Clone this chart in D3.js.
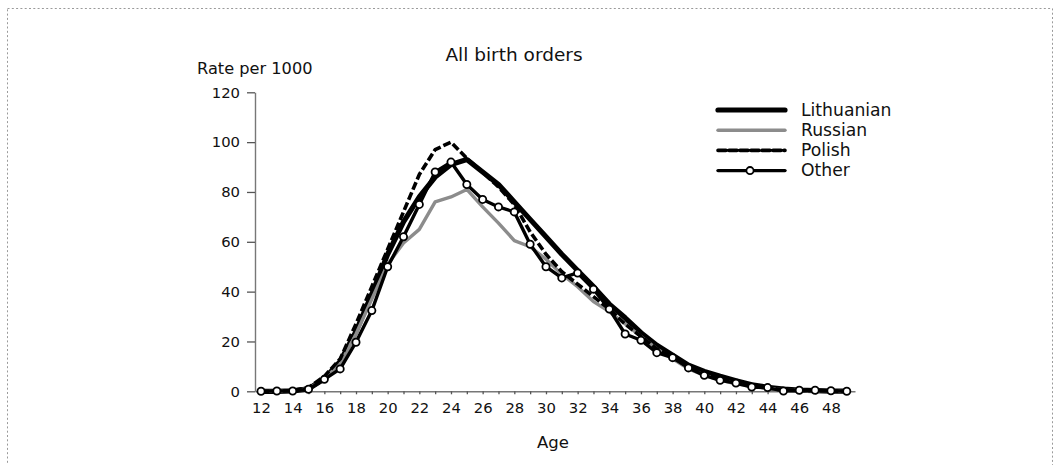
<!DOCTYPE html>
<html>
<head>
<meta charset="utf-8">
<script src="https://cdn.jsdelivr.net/npm/d3@7"></script>
<style>
  body { margin: 0; background: #fff; }
  svg { display: block; }
  text { font-family: "DejaVu Sans", sans-serif; fill: #111; }
</style>
</head>
<body>
<svg id="chart" width="1060" height="465"></svg>
<script>
// ages 12..49
var ages = [12, 13, 14, 15, 16, 17, 18, 19, 20, 21, 22, 23, 24, 25, 26, 27, 28, 29, 30,
  31, 32, 33, 34, 35, 36, 37, 38, 39, 40, 41, 42, 43, 44, 45, 46, 47, 48, 49];

var lithuanian = [0, 0, 0.2, 1, 5, 12, 24, 39, 55, 68, 78, 86, 91, 93, 88, 83, 76, 69, 62,
  55, 48.5, 42, 35, 29.5, 23.5, 18.5, 14.5, 10.5, 8, 6, 4.2, 2.6, 1.6, 0.9, 0.5, 0.3, 0.1, 0.05];
var russian = [0, 0, 0.2, 1, 5, 11, 23, 37, 51, 59.5, 65, 76, 78, 81, 74, 67.5, 60.5, 58, 53,
  47, 42, 36, 32, 27, 22, 17, 13, 9, 6.5, 4.5, 3, 2, 1.2, 0.6, 0.3, 0.1, 0.05, 0];
var polish = [0, 0, 0.3, 1.5, 6, 13, 27, 42, 57, 72, 87, 97, 100, 93.5, 88, 82, 75, 64, 55,
  48, 43, 38, 33, 27, 22, 17, 13.5, 10, 7, 5, 3.5, 2.2, 1.4, 0.7, 0.4, 0.2, 0.1, 0];
var other = [0, 0.1, 0.1, 0.8, 4.8, 9, 19.7, 32.4, 50, 62, 75, 88, 92, 83, 77, 74, 72, 59, 50,
  45.5, 47.5, 41, 33, 23, 20.5, 15.5, 13.5, 9.4, 6.4, 4.4, 3.3, 1.7, 1.5, 0.1, 0.4, 0.4, 0.2, 0];

var yTicks = [0, 20, 40, 60, 80, 100, 120];
var seriesNames = ["Lithuanian", "Russian", "Polish", "Other"];

var svg = d3.select("#chart");

// dotted frame round the figure
svg.append("rect")
  .attr("x", 7.5)
  .attr("y", 8.5)
  .attr("width", 1045)
  .attr("height", 470)
  .attr("fill", "none")
  .attr("stroke", "#9a9a9a")
  .attr("stroke-width", 1)
  .attr("stroke-dasharray", "2,2.3");

var xScale = d3.scaleLinear().domain([11.62, 49.52]).range([255, 855]);
var yScale = d3.scaleLinear().domain([0, 120]).range([391.3, 92.3]);

// axes
var xAxis = d3.axisBottom(xScale)
  .tickValues(ages)
  .tickSize(3)
  .tickSizeOuter(0)
  .tickPadding(8)
  .tickFormat(function (d) { return d % 2 == 0 ? d : ""; });
var yAxis = d3.axisLeft(yScale)
  .tickValues(yTicks)
  .tickSize(8)
  .tickSizeOuter(0)
  .tickPadding(7);

var gX = svg.append("g")
  .attr("transform", "translate(0," + yScale(0) + ")")
  .call(xAxis);
var gY = svg.append("g")
  .attr("transform", "translate(" + xScale.range()[0] + ",0)")
  .call(yAxis);

[gX, gY].forEach(function (g) {
  g.select(".domain").attr("stroke", "#777").attr("stroke-width", 1.4);
  g.selectAll(".tick line").attr("stroke", "#555").attr("stroke-width", 1.3);
  g.selectAll(".tick text")
    .attr("font-family", '"DejaVu Sans", sans-serif')
    .attr("font-size", 14.8)
    .attr("fill", "#111");
});

// titles
svg.append("text")
  .attr("x", 514)
  .attr("y", 61)
  .attr("text-anchor", "middle")
  .attr("font-size", 18.5)
  .text("All birth orders");
svg.append("text")
  .attr("x", 197)
  .attr("y", 74)
  .attr("font-size", 16.2)
  .text("Rate per 1000");
svg.append("text")
  .attr("x", 553)
  .attr("y", 448)
  .attr("text-anchor", "middle")
  .attr("font-size", 16.5)
  .text("Age");

// series
var line = d3.line()
  .x(function (d) { return xScale(d[0]); })
  .y(function (d) { return yScale(d[1]); });

function pairs(values) {
  return ages.map(function (a, i) { return [a, values[i]]; });
}

var styles = {
  Lithuanian: { stroke: "#000", width: 5.2, dash: null },
  Russian: { stroke: "#8c8c8c", width: 3.4, dash: null },
  Polish: { stroke: "#000", width: 3.6, dash: "8,3" },
  Other: { stroke: "#000", width: 3.4, dash: null }
};
var seriesData = {
  Lithuanian: lithuanian,
  Russian: russian,
  Polish: polish,
  Other: other
};

var plot = svg.append("g");
seriesNames.forEach(function (name) {
  var s = styles[name];
  plot.append("path")
    .datum(pairs(seriesData[name]))
    .attr("d", line)
    .attr("fill", "none")
    .attr("stroke", s.stroke)
    .attr("stroke-width", s.width)
    .attr("stroke-linejoin", "round")
    .attr("stroke-dasharray", s.dash);
});

plot.selectAll("circle.other")
  .data(pairs(other))
  .enter()
  .append("circle")
  .attr("class", "other")
  .attr("cx", function (d) { return xScale(d[0]); })
  .attr("cy", function (d) { return yScale(d[1]); })
  .attr("r", 3.6)
  .attr("fill", "#fff")
  .attr("stroke", "#000")
  .attr("stroke-width", 1.8);

// legend
var legend = svg.append("g").attr("transform", "translate(718,110)");
seriesNames.forEach(function (name, i) {
  var s = styles[name];
  var row = legend.append("g").attr("transform", "translate(0," + i * 20.2 + ")");
  row.append("line")
    .attr("x1", 0)
    .attr("x2", 67)
    .attr("y1", 0)
    .attr("y2", 0)
    .attr("stroke", s.stroke)
    .attr("stroke-width", s.width)
    .attr("stroke-linecap", "round")
    .attr("stroke-dasharray", s.dash);
  if (name == "Other") {
    row.append("circle")
      .attr("cx", 32)
      .attr("cy", 0)
      .attr("r", 3.6)
      .attr("fill", "#fff")
      .attr("stroke", "#000")
      .attr("stroke-width", 1.8);
  }
  row.append("text")
    .attr("x", 83)
    .attr("y", 5.8)
    .attr("font-size", 17.2)
    .text(name);
});
</script>
</body>
</html>
